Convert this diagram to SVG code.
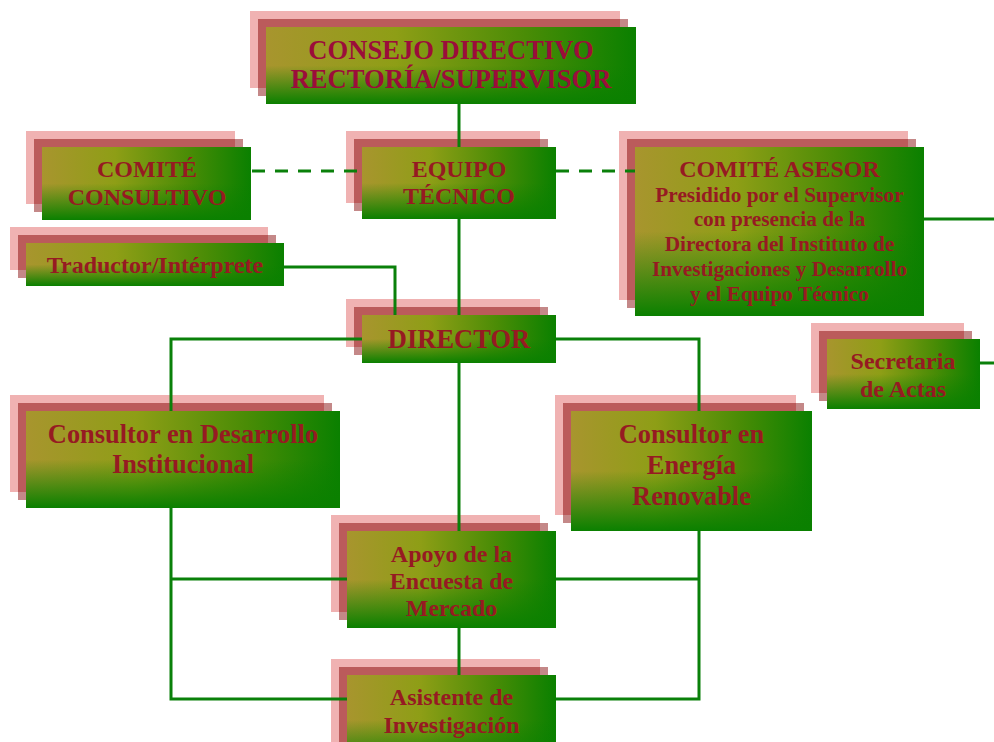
<svg xmlns="http://www.w3.org/2000/svg" width="994" height="742" viewBox="0 0 994 742">
<defs>
<linearGradient id="gh" x1="0" y1="0" x2="1" y2="0">
<stop offset="0" stop-color="#a8952e"/>
<stop offset="0.35" stop-color="#8e9e16"/>
<stop offset="0.7" stop-color="#4a8c06"/>
<stop offset="1" stop-color="#0a8000"/>
</linearGradient>
<linearGradient id="gv" x1="0" y1="0" x2="0" y2="1">
<stop offset="0" stop-color="#0a8000" stop-opacity="0"/>
<stop offset="0.5" stop-color="#0a8000" stop-opacity="0"/>
<stop offset="1" stop-color="#0a8000" stop-opacity="1"/>
</linearGradient>
<style>
.p{fill:#f0b2b2}
.d{fill:#c48888}
.o{fill:#bb5b5b}
.m{fill:url(#gh)}
.v{fill:url(#gv)}
.t{font-family:"Liberation Serif","Times New Roman",serif;font-weight:bold;fill:#961a22;text-anchor:middle}
.t0{fill:#9b0d3a}
.c{fill:none;stroke:#0a800a;stroke-width:3}
.dash{stroke-dasharray:13 10}
</style>
</defs>

<g id="consejo">
<rect class="p" x="250" y="11" width="370" height="77"/>
<rect class="d" x="258" y="19" width="370" height="77"/>
<rect class="o" x="258" y="19" width="362" height="69"/>
<rect class="m" x="266" y="27" width="370" height="77"/>
<rect class="v" x="266" y="27" width="370" height="77"/>
<text class="t t0" font-size="26.6" x="451" y="59">CONSEJO DIRECTIVO</text>
<text class="t t0" font-size="26.6" x="451" y="88">RECTORÍA/SUPERVISOR</text>
</g>

<g id="comite-consultivo">
<rect class="p" x="26" y="131" width="209" height="73"/>
<rect class="d" x="34" y="139" width="209" height="73"/>
<rect class="o" x="34" y="139" width="201" height="65"/>
<rect class="m" x="42" y="147" width="209" height="73"/>
<rect class="v" x="42" y="147" width="209" height="73"/>
<text class="t" font-size="24" x="147" y="177">COMITÉ</text>
<text class="t" font-size="24" x="147" y="205">CONSULTIVO</text>
</g>

<g id="equipo-tecnico">
<rect class="p" x="346" y="131" width="194" height="72"/>
<rect class="d" x="354" y="139" width="194" height="72"/>
<rect class="o" x="354" y="139" width="186" height="64"/>
<rect class="m" x="362" y="147" width="194" height="72"/>
<rect class="v" x="362" y="147" width="194" height="72"/>
<text class="t" font-size="24" x="459" y="177">EQUIPO</text>
<text class="t" font-size="24" x="459" y="204">TÉCNICO</text>
</g>

<g id="comite-asesor">
<rect class="p" x="619" y="131" width="289" height="169"/>
<rect class="d" x="627" y="139" width="289" height="169"/>
<rect class="o" x="627" y="139" width="281" height="161"/>
<rect class="m" x="635" y="147" width="289" height="169"/>
<rect class="v" x="635" y="147" width="289" height="169"/>
<text class="t" font-size="24" x="779.5" y="177">COMITÉ ASESOR</text>
<text class="t" font-size="21.3" x="779.5" y="202">Presidido por el Supervisor</text>
<text class="t" font-size="21.3" x="779.5" y="226">con presencia de la</text>
<text class="t" font-size="21.3" x="779.5" y="251">Directora del Instituto de</text>
<text class="t" font-size="21.3" x="779.5" y="276">Investigaciones y Desarrollo</text>
<text class="t" font-size="21.3" x="779.5" y="301">y el Equipo Técnico</text>
</g>

<g id="traductor">
<rect class="p" x="10" y="227" width="258" height="43"/>
<rect class="d" x="18" y="235" width="258" height="43"/>
<rect class="o" x="18" y="235" width="250" height="35"/>
<rect class="m" x="26" y="243" width="258" height="43"/>
<rect class="v" x="26" y="243" width="258" height="43"/>
<text class="t" font-size="24" x="155" y="273">Traductor/Intérprete</text>
</g>

<g id="director">
<rect class="p" x="346" y="299" width="194" height="48"/>
<rect class="d" x="354" y="307" width="194" height="48"/>
<rect class="o" x="354" y="307" width="186" height="40"/>
<rect class="m" x="362" y="315" width="194" height="48"/>
<rect class="v" x="362" y="315" width="194" height="48"/>
<text class="t" font-size="26.5" x="459" y="348">DIRECTOR</text>
</g>

<g id="secretaria">
<rect class="p" x="811" y="323" width="153" height="70"/>
<rect class="d" x="819" y="331" width="153" height="70"/>
<rect class="o" x="819" y="331" width="145" height="62"/>
<rect class="m" x="827" y="339" width="153" height="70"/>
<rect class="v" x="827" y="339" width="153" height="70"/>
<text class="t" font-size="24" x="903" y="369">Secretaria</text>
<text class="t" font-size="24" x="903" y="397">de Actas</text>
</g>

<g id="consultor-desarrollo">
<rect class="p" x="10" y="395" width="314" height="97"/>
<rect class="d" x="18" y="403" width="314" height="97"/>
<rect class="o" x="18" y="403" width="306" height="89"/>
<rect class="m" x="26" y="411" width="314" height="97"/>
<rect class="v" x="26" y="411" width="314" height="97"/>
<text class="t" font-size="26.4" x="183" y="443">Consultor en Desarrollo</text>
<text class="t" font-size="26.4" x="183" y="473">Institucional</text>
</g>

<g id="consultor-energia">
<rect class="p" x="555" y="395" width="241" height="120"/>
<rect class="d" x="563" y="403" width="241" height="120"/>
<rect class="o" x="563" y="403" width="233" height="112"/>
<rect class="m" x="571" y="411" width="241" height="120"/>
<rect class="v" x="571" y="411" width="241" height="120"/>
<text class="t" font-size="26.4" x="691.5" y="443">Consultor en</text>
<text class="t" font-size="26.4" x="691.5" y="474">Energía</text>
<text class="t" font-size="26.4" x="691.5" y="505">Renovable</text>
</g>

<g id="apoyo-encuesta">
<rect class="p" x="331" y="515" width="209" height="97"/>
<rect class="d" x="339" y="523" width="209" height="97"/>
<rect class="o" x="339" y="523" width="201" height="89"/>
<rect class="m" x="347" y="531" width="209" height="97"/>
<rect class="v" x="347" y="531" width="209" height="97"/>
<text class="t" font-size="24" x="451.5" y="562">Apoyo de la</text>
<text class="t" font-size="24" x="451.5" y="589">Encuesta de</text>
<text class="t" font-size="24" x="451.5" y="616">Mercado</text>
</g>

<g id="asistente">
<rect class="p" x="331" y="659" width="209" height="90"/>
<rect class="d" x="339" y="667" width="209" height="90"/>
<rect class="o" x="339" y="667" width="201" height="82"/>
<rect class="m" x="347" y="675" width="209" height="90"/>
<rect class="v" x="347" y="675" width="209" height="90"/>
<text class="t" font-size="24" x="451.5" y="705">Asistente de</text>
<text class="t" font-size="24" x="451.5" y="733">Investigación</text>
</g>

<g id="connectors">
<path class="c" d="M459 104V147"/>
<path class="c" d="M459 219V315"/>
<path class="c dash" d="M252 171H362"/>
<path class="c dash" d="M556 171H635"/>
<path class="c" d="M284 267H395V315"/>
<path class="c" d="M362 339H171V411"/>
<path class="c" d="M556 339H699V411"/>
<path class="c" d="M459 363V531"/>
<path class="c" d="M459 628V675"/>
<path class="c" d="M171 508V699H347"/>
<path class="c" d="M171 579H347"/>
<path class="c" d="M699 531V699H556"/>
<path class="c" d="M556 579H699"/>
<path class="c" d="M924 219H994"/>
<path class="c" d="M980 363H994"/>
</g>
</svg>
